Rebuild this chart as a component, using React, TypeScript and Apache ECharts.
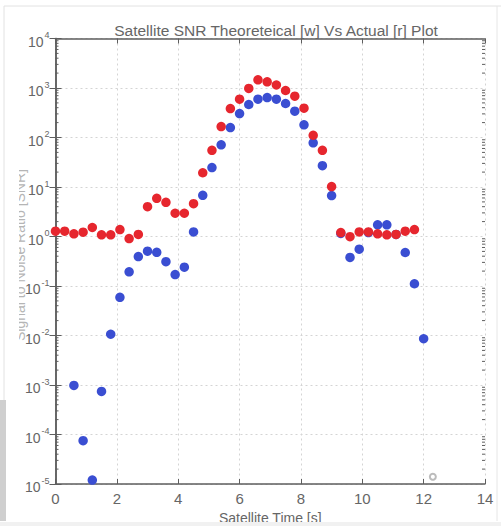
import React, { useEffect, useRef } from "react";
import * as echarts from "echarts";

const TITLE = "Satellite SNR Theoreteical [w] Vs Actual [r] Plot";
const X_LABEL = "Satellite Time [s]";
const Y_LABEL = "Signal to Noise Ratio [SNR]";

const X_TICKS = [0, 2, 4, 6, 8, 10, 12, 14];
const Y_DECADES = [-5, -4, -3, -2, -1, 0, 1, 2, 3, 4];

const redTime = [
  0, 0.3, 0.6, 0.9, 1.2, 1.5, 1.8, 2.1, 2.4, 2.7, 3.0, 3.3, 3.6, 3.9, 4.2, 4.5, 4.8, 5.1, 5.4, 5.7,
  6.0, 6.3, 6.6, 6.9, 7.2, 7.5, 7.8, 8.1, 8.4, 8.7, 9.0, 9.3, 9.6, 9.9, 10.2, 10.5, 10.8, 11.1, 11.4, 11.7,
];
const redSNR = [
  1.28, 1.28, 1.13, 1.22, 1.52, 1.08, 1.08, 1.38, 0.91, 1.1, 4.0, 5.9, 4.9, 2.95, 2.95, 4.6, 19.4, 55, 166, 385,
  594, 980, 1466, 1333, 1150, 890, 683, 391, 111, 55, 10.2, 1.2, 0.99, 1.24, 1.24, 1.13, 1.08, 1.1, 1.28, 1.38,
];

const blueTime = [
  0.6, 0.9, 1.2, 1.5, 1.8, 2.1, 2.4, 2.7, 3.0, 3.3, 3.6, 3.9, 4.2, 4.5, 4.8, 5.1, 5.4, 5.7, 6.0, 6.3,
  6.6, 6.9, 7.2, 7.5, 7.8, 8.1, 8.4, 8.7, 9.0, 9.3, 9.6, 9.9, 10.2, 10.5, 10.8, 11.1, 11.4, 11.7, 12.0,
];
const blueSNR = [
  0.00098, 0.000075, 0.000012, 0.00074, 0.0106, 0.059, 0.193, 0.394, 0.505, 0.48, 0.31, 0.17, 0.24, 1.24, 6.8, 24.7, 71, 159, 305, 464,
  594, 640, 594, 486, 340, 180, 78, 27, 6.7, 1.15, 0.377, 0.555, 1.2, 1.72, 1.72, 1.1, 0.475, 0.111, 0.0086,
];

const hollowTime = [12.3];
const hollowSNR = [0.000014];

const FONT = "'Liberation Sans Narrow', 'Liberation Sans', 'DejaVu Sans', sans-serif";
const GREY = "#5e5e5e";

export default function App() {
  const ref = useRef<HTMLDivElement>(null);

  useEffect(() => {
    document.body.style.margin = "0";
    if (!ref.current) return;
    const chart = echarts.init(ref.current, undefined, { renderer: "svg" });

    const minorVals: number[][] = [];
    for (let d = -5; d < 4; d++) {
      for (let m = 2; m <= 9; m++) minorVals.push([0, m * Math.pow(10, d)]);
    }

    const yLabelFmt = (v: number) => {
      const e = Math.round(Math.log10(v));
      return "{b|10}{s|" + e + "}";
    };

    chart.setOption({
      animation: false,
      backgroundColor: "#fff",
      textStyle: { fontFamily: FONT },
      title: {
        text: TITLE,
        left: 271,
        top: 17,
        textAlign: "center",
        textStyle: { fontFamily: FONT, fontSize: 15.5, fontWeight: "normal", color: "#666" },
      },
      grid: {
        left: 55.5,
        right: 16,
        top: 38.5,
        bottom: 42,
        containLabel: false,
        outerBoundsMode: "none",
        show: false,
      },
      xAxis: [
        {
          type: "value",
          min: 0,
          max: 14,
          interval: 2,
          axisLine: { show: true, onZero: false, lineStyle: { color: GREY, width: 1.5 } },
          axisTick: { show: true, inside: true, length: 5, lineStyle: { color: GREY } },
          axisLabel: { color: "#666", fontSize: 15, fontFamily: FONT, margin: 7 },
          splitLine: { show: true, lineStyle: { color: "#d4d4d4", type: [2, 3], width: 1 } },
          name: X_LABEL,
          nameLocation: "middle",
          nameGap: 24,
          nameTextStyle: { color: "#666", fontSize: 14, fontFamily: FONT },
        },
        {
          type: "value",
          position: "top",
          min: 0,
          max: 14,
          interval: 2,
          axisLine: { show: true, lineStyle: { color: GREY, width: 1.5 } },
          axisTick: { show: true, inside: true, length: 5, lineStyle: { color: GREY } },
          axisLabel: { show: false },
          splitLine: { show: false },
        },
      ],
      yAxis: [
        {
          type: "log",
          logBase: 10,
          min: 1e-5,
          max: 1e4,
          axisLine: { show: true, onZero: false, lineStyle: { color: GREY, width: 1.5 } },
          axisTick: { show: true, inside: true, length: 6, lineStyle: { color: GREY } },
          axisLabel: {
            formatter: yLabelFmt,
            margin: 6,
            rich: {
              b: { color: "#666", fontSize: 14, fontFamily: FONT, padding: [6, 0, 0, 0] },
              s: { color: "#666", fontSize: 9, fontFamily: FONT, padding: [0, 0, 7, 1] },
            },
          },
          splitLine: { show: true, lineStyle: { color: "#d4d4d4", type: [2, 3], width: 1 } },
        },
        {
          type: "log",
          logBase: 10,
          min: 1e-5,
          max: 1e4,
          position: "right",
          axisLine: { show: true, lineStyle: { color: GREY, width: 1.5 } },
          axisTick: { show: true, inside: true, length: 6, lineStyle: { color: GREY } },
          axisLabel: { show: false },
          splitLine: { show: false },
        },
      ],
      series: [
        {
          type: "custom",
          silent: true,
          xAxisIndex: 0,
          yAxisIndex: 0,
          data: minorVals,
          encode: { x: 0, y: 1 },
          renderItem: (params: any, api: any) => {
            const cs = params.coordSys;
            const y = api.coord([0, api.value(1)])[1];
            const st = { stroke: GREY, lineWidth: 1 };
            return {
              type: "group",
              children: [
                { type: "line", shape: { x1: cs.x, y1: y, x2: cs.x + 3, y2: y }, style: st },
                { type: "line", shape: { x1: cs.x + cs.width - 3, y1: y, x2: cs.x + cs.width, y2: y }, style: st },
              ],
            };
          },
        },
        {
          type: "scatter",
          name: "theoretical",
          data: blueTime.map((t, i) => [t, blueSNR[i]]),
          symbol: "circle",
          symbolSize: 9.5,
          itemStyle: { color: "#3a4ed2", opacity: 1 },
        },
        {
          type: "scatter",
          name: "actual",
          data: redTime.map((t, i) => [t, redSNR[i]]),
          symbol: "circle",
          symbolSize: 9.5,
          itemStyle: { color: "#e6262e", opacity: 1 },
        },
        {
          type: "scatter",
          name: "other",
          data: hollowTime.map((t, i) => [t, hollowSNR[i]]),
          symbol: "emptyCircle",
          symbolSize: 6,
          itemStyle: { color: "#aaa", borderColor: "#aaa", borderWidth: 1.5 },
        },
      ],
      graphic: [
        {
          type: "text",
          x: 20,
          y: 255,
          rotation: Math.PI / 2,
          style: {
            text: Y_LABEL,
            fill: "#b5b5b5",
            font: "14px " + FONT,
            textAlign: "center",
            textVerticalAlign: "middle",
          },
        },
        { type: "rect", shape: { x: 5, y: 100, width: 14, height: 320 }, style: { fill: "#fff" }, z: 100 },
        { type: "line", shape: { x1: 4, y1: 6, x2: 501, y2: 6 }, style: { stroke: "#e2e2e2", lineWidth: 1 }, z: 100 },
        { type: "line", shape: { x1: 4, y1: 6, x2: 4, y2: 400 }, style: { stroke: "#e2e2e2", lineWidth: 1 }, z: 100 },
        { type: "line", shape: { x1: 497, y1: 6, x2: 497, y2: 521 }, style: { stroke: "#e6e6e6", lineWidth: 1 }, z: 100 },
        { type: "rect", shape: { x: 0, y: 400, width: 6, height: 121 }, style: { fill: "#cfcfcf" }, z: 100 },
        { type: "rect", shape: { x: 0, y: 522, width: 501, height: 4 }, style: { fill: "#f1f1f1" }, z: 100 },
      ],
    });

    return () => chart.dispose();
  }, []);

  return <div ref={ref} style={{ width: 501, height: 526 }} />;
}
